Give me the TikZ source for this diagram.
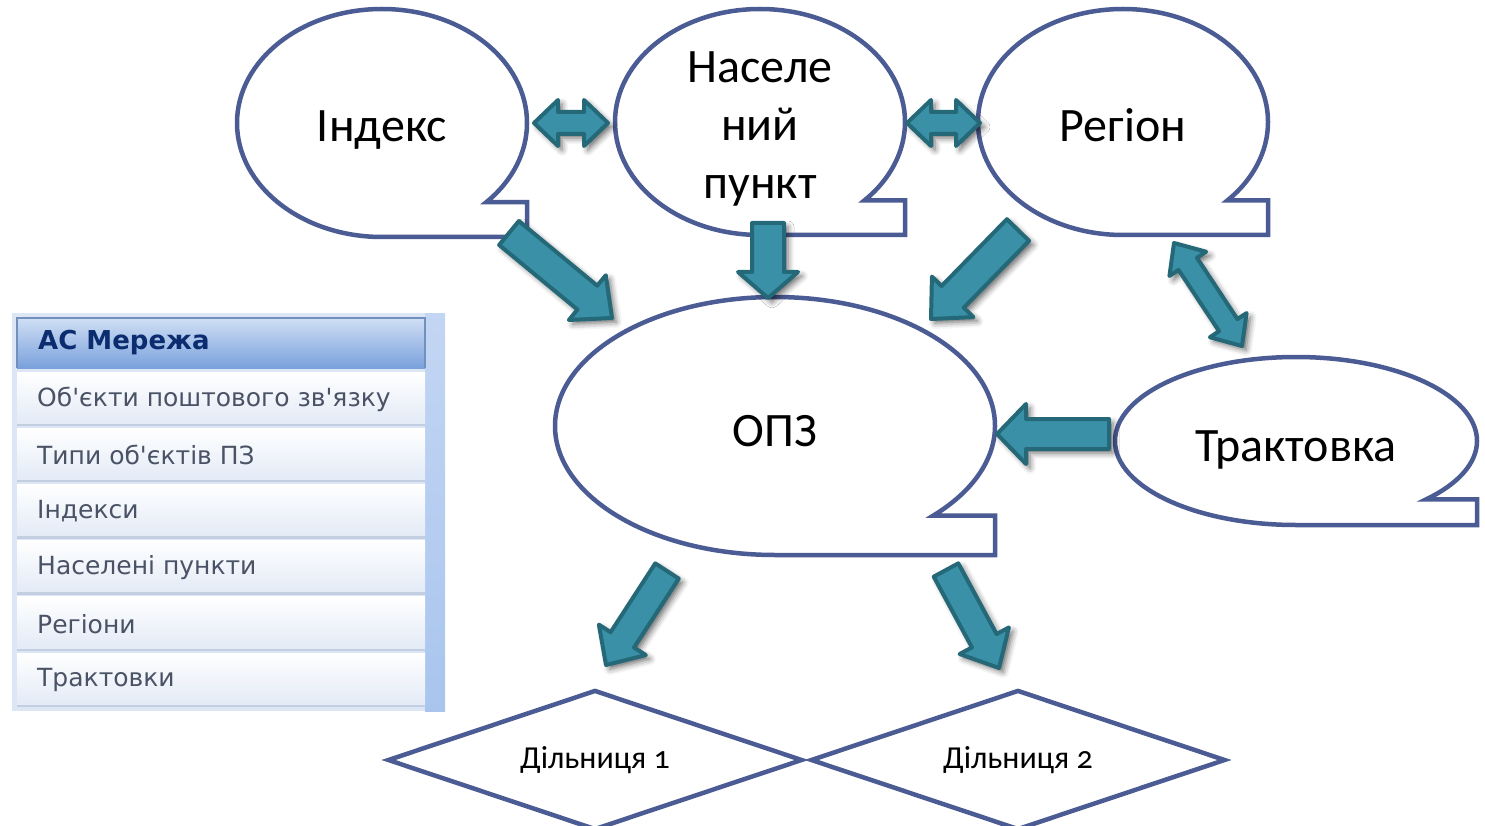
\documentclass[tikz,border=0pt]{standalone}
\usepackage{fontspec}
\setmainfont{Carlito}
\newfontfamily\panelfont{DejaVu Sans}
\newfontfamily\plotfont{Carlito}[Numbers=OldStyle]
\usetikzlibrary{calc}
\usetikzlibrary{shapes.geometric}
\usetikzlibrary{shadows.blur}

\definecolor{bubbleblue}{HTML}{4B5B93}
\definecolor{arrowfill}{HTML}{3990A7}
\definecolor{arrowline}{HTML}{256979}
\definecolor{panelbg}{HTML}{DCE6F4}
\definecolor{panelstrip}{HTML}{A9C5EE}
\definecolor{headtop}{HTML}{D0DFF5}
\definecolor{headbottom}{HTML}{7AA1DC}
\definecolor{headline}{HTML}{7290BC}
\definecolor{headtext}{HTML}{0B2C6E}
\definecolor{rowbottom}{HTML}{E2EAF6}
\definecolor{rowline}{HTML}{C3CFE0}
\definecolor{itemtext}{HTML}{4A5366}

\tikzset{
  bubble/.style={draw=bubbleblue,line width=4.5pt,fill=white},
  bubbletext/.style={font=\fontsize{48}{58}\selectfont,align=center,inner sep=0pt},
  onelinetext/.style={bubbletext,text height=31pt,text depth=9pt},
  plot/.style={diamond,aspect=2.96,draw=bubbleblue,line width=4.5pt,fill=white,inner sep=0pt,
    minimum width=415pt,minimum height=140pt,font=\plotfont\fontsize{32}{38}\selectfont},
  fat/.style={draw=arrowline,fill=arrowfill,line width=4pt,line join=round,
    blur shadow={shadow xshift=4pt,shadow yshift=-4pt,shadow blur radius=6pt,shadow opacity=60}},
  itemtext/.style={anchor=west,inner sep=0pt,text=itemtext,font=\panelfont\fontsize{25}{30}\selectfont},
}

% callout outline: x, y, x radius, y radius
\newcommand\bubbleline[4]{%
  \draw[bubble] (#1,#2+#4) arc[start angle=270,end angle=-44,x radius=#3pt,y radius=#4pt]
    -| (#1+#3,#2+#4) -- cycle;
}
% block arrow: tail, tip, shaft half width, head length, head half width
\newcommand\fatarrow[5]{%
  \coordinate (n) at ($(#2)!#4!(#1)$);
  \draw[fat] ($(#1)!#3!90:(#2)$) -- ($(n)!#3!90:(#2)$) -- ($(n)!#5!90:(#2)$) -- (#2)
    -- ($(n)!#5!-90:(#2)$) -- ($(n)!#3!-90:(#2)$) -- ($(#1)!#3!-90:(#2)$) -- cycle;
}
% double block arrow: end, end, shaft half width, head length, head half width
\newcommand\fatdarrow[5]{%
  \coordinate (na) at ($(#1)!#4!(#2)$);
  \coordinate (nb) at ($(#2)!#4!(#1)$);
  \draw[fat] (#1) -- ($(na)!#5!90:(#2)$) -- ($(na)!#3!90:(#2)$) -- ($(nb)!#3!-90:(#1)$)
    -- ($(nb)!#5!-90:(#1)$) -- (#2) -- ($(nb)!#5!90:(#1)$) -- ($(nb)!#3!90:(#1)$)
    -- ($(na)!#3!-90:(#2)$) -- ($(na)!#5!-90:(#2)$) -- cycle;
}

\begin{document}
\begin{tikzpicture}[x=1pt,y=-1pt]
  \useasboundingbox (0,0) rectangle (1485,826);

  % side panel
  \fill[panelbg] (12,313) rectangle (445,711);
  \shade[top color=panelstrip!70!white,bottom color=panelstrip] (425,313) rectangle (445,711);
  \shade[top color=headtop,bottom color=headbottom] (17,318) rectangle (425,368);
  \draw[headline,line width=2pt] (17,368) -- (17,318) -- (425,318) -- (425,368);
  \node[itemtext,text=headtext,font=\panelfont\bfseries\fontsize{26}{30}\selectfont] (head) at (38,343) {АС Мережа};
  \foreach \entry [count=\i] in {Об'єкти поштового зв'язку,Типи об'єктів ПЗ,Індекси,Населені пункти,Регіони,Трактовки}{
    \pgfmathsetmacro\rowy{372+56.2*(\i-1)}
    \shade[top color=white,bottom color=rowbottom] (17,\rowy) rectangle (425,\rowy+53);
    \draw[rowline,line width=2.5pt] (17,\rowy+53) -- (425,\rowy+53);
    \node[itemtext] (item-\i) at (37,\rowy+27) {\entry};
  }

  % callouts
  \bubbleline{382}{123}{145}{114}
  \node[onelinetext] (index) at (382,131) {Індекс};
  \bubbleline{760}{122}{145}{113}
  \node[bubbletext] (town) at (760,129) {Населе\\ний\\пункт};
  \bubbleline{1123}{122}{145}{113}
  \node[onelinetext] (region) at (1123,131) {Регіон};
  \bubbleline{775}{426}{220}{129}
  \node[onelinetext] (opz) at (775,435) {ОПЗ};
  \bubbleline{1296}{441}{181}{84}
  \node[onelinetext] (tract) at (1296,450) {Трактовка};

  \node[plot] (plot1) at (595,760) {Дільниця 1};
  \node[plot] (plot2) at (1018,760) {Дільниця 2};

  % arrows
  \coordinate (index-e) at (534,123);
  \coordinate (town-w) at (608,123);
  \coordinate (town-e) at (907,123);
  \coordinate (region-w) at (980,123);
  \coordinate (index-out) at (509,233);
  \coordinate (opz-nw) at (612,318);
  \coordinate (town-out) at (768,223);
  \coordinate (opz-n) at (768,298);
  \coordinate (region-out) at (1018,230);
  \coordinate (opz-ne) at (931,319);
  \coordinate (region-s) at (1174,243);
  \coordinate (tract-n) at (1242,346);
  \coordinate (tract-w) at (1109,434);
  \coordinate (opz-e) at (997,434);
  \coordinate (opz-sw) at (667,571);
  \coordinate (plot1-n) at (606,665);
  \coordinate (opz-se) at (946,570);
  \coordinate (plot2-n) at (999,668);

  \fatdarrow{index-e}{town-w}{11pt}{24pt}{23pt}
  \fatdarrow{town-e}{region-w}{11pt}{24pt}{23pt}
  \fatarrow{index-out}{opz-nw}{15.5pt}{32pt}{29pt}
  \fatarrow{town-out}{opz-n}{16pt}{26pt}{30pt}
  \fatarrow{region-out}{opz-ne}{15.5pt}{31pt}{29pt}
  \fatdarrow{region-s}{tract-n}{11pt}{25pt}{22pt}
  \fatarrow{tract-w}{opz-e}{15pt}{29pt}{30pt}
  \fatarrow{opz-sw}{plot1-n}{14pt}{30pt}{28pt}
  \fatarrow{opz-se}{plot2-n}{14pt}{31pt}{28pt}
\end{tikzpicture}
\end{document}
